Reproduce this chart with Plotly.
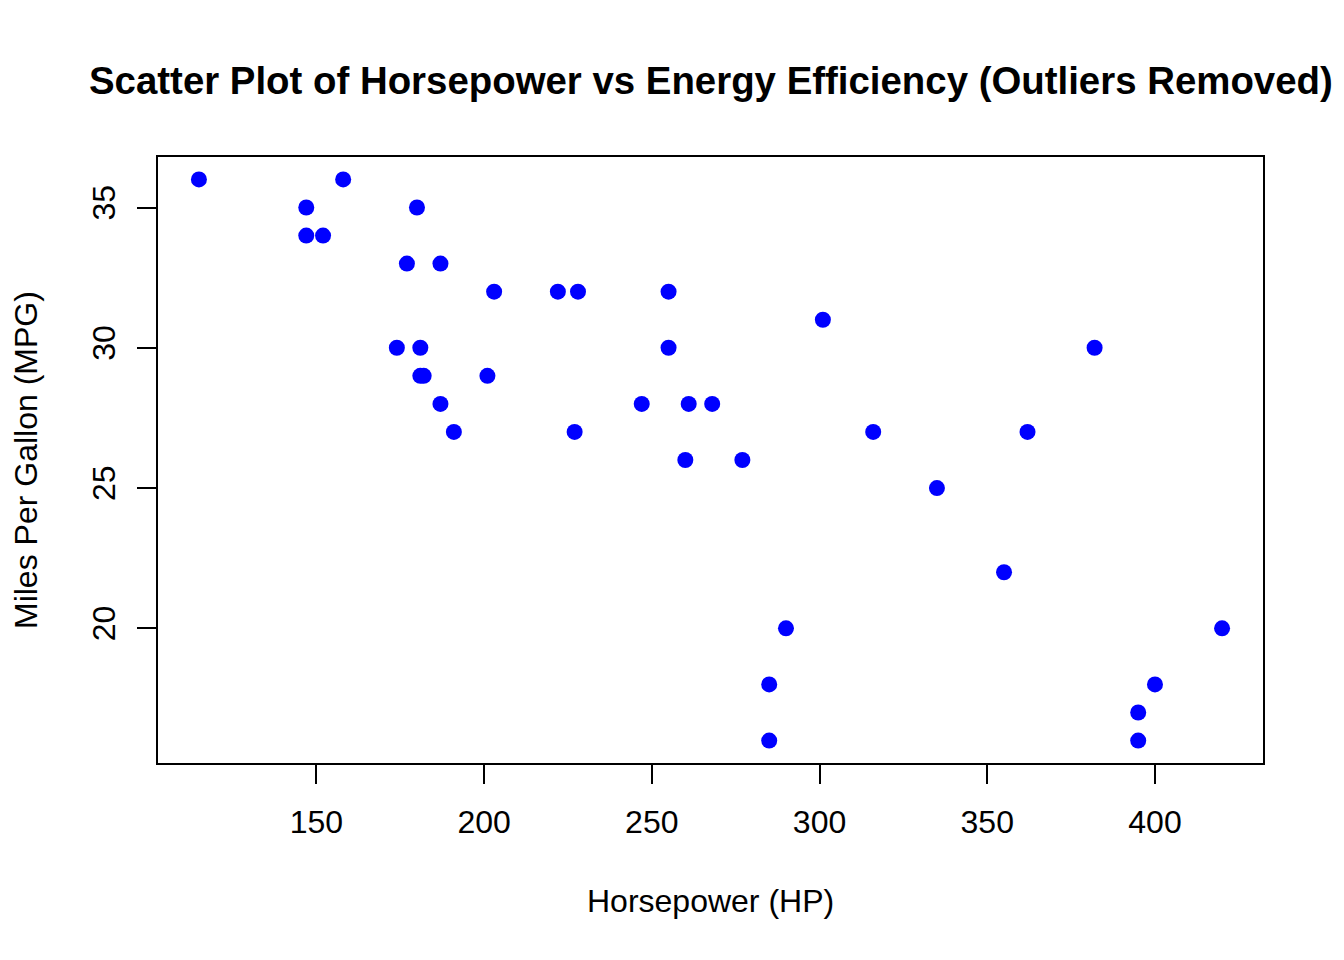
import plotly.graph_objects as go

horsepower = [115, 147, 147, 152, 158, 177, 180, 187, 174, 181, 181, 182, 187, 191,
              201, 203, 222, 228, 227, 247, 255, 255, 260, 261, 268, 277, 285, 285,
              290, 301, 316, 335, 355, 362, 382, 395, 395, 400, 420]
mpg = [36, 35, 34, 34, 36, 33, 35, 33, 30, 30, 29, 29, 28, 27,
       29, 32, 32, 32, 27, 28, 32, 30, 26, 28, 28, 26, 18, 16,
       20, 31, 27, 25, 22, 27, 30, 17, 16, 18, 20]

x_ticks = [150, 200, 250, 300, 350, 400]
y_ticks = [20, 25, 30, 35]

FONT = "Liberation Sans, Arial, Helvetica, sans-serif"

fig = go.Figure(go.Scatter(
    x=horsepower, y=mpg, mode="markers",
    marker=dict(color="#0000FF", size=16, line=dict(width=0)),
    showlegend=False,
))

fig.update_layout(
    width=1344, height=960,
    margin=dict(l=150, r=89, t=149, b=205),
    paper_bgcolor="white", plot_bgcolor="white",
    font=dict(family=FONT, color="black", size=32),
    xaxis=dict(range=[102.8, 432.2], tickvals=x_ticks, ticks="outside", ticklen=19,
               tickwidth=2, tickcolor="black", showline=True, linecolor="black",
               linewidth=2, mirror=True, showgrid=False, zeroline=False,
               tickfont=dict(size=32), ticklabelstandoff=11),
    yaxis=dict(range=[15.2, 36.8], tickvals=y_ticks, ticks="outside", ticklen=19,
               tickwidth=2, tickcolor="black", showline=True, linecolor="black",
               linewidth=2, mirror=True, showgrid=False, zeroline=False,
               tickangle=-90, tickfont=dict(size=32), ticklabelstandoff=9),
    annotations=[
        dict(text="<b>Scatter Plot of Horsepower vs Energy Efficiency (Outliers Removed)</b>",
             xref="paper", yref="paper", x=0.5, y=1, xanchor="center", yanchor="middle",
             yshift=77, showarrow=False, font=dict(size=38.4)),
        dict(text="Horsepower (HP)", xref="paper", yref="paper", x=0.5, y=0,
             xanchor="center", yanchor="middle", yshift=-138, showarrow=False,
             font=dict(size=32)),
        dict(text="Miles Per Gallon (MPG)", xref="paper", yref="paper", x=0, y=0.5,
             xanchor="center", yanchor="middle", xshift=-132, textangle=-90,
             showarrow=False, font=dict(size=32), borderpad=0),
    ],
)

fig.write_html("out.html")
